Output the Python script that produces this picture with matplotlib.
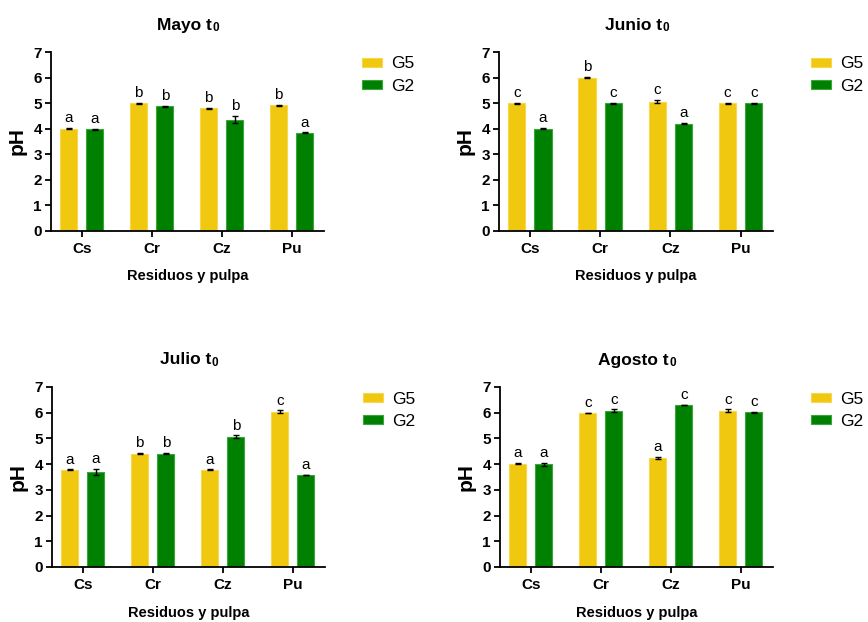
import matplotlib
matplotlib.use('Agg')
import matplotlib.pyplot as plt
import numpy as np
from matplotlib.patches import Patch

plt.rcParams['font.family'] = ['Liberation Sans', 'DejaVu Sans']

categories = ['Cs', 'Cr', 'Cz', 'Pu']
series = ['G5', 'G2']
months = ['Mayo', 'Junio', 'Julio', 'Agosto']

# mean pH per month, per series, per category
g5_vals = {
    'Mayo':   [4.00, 5.00, 4.80, 4.92],
    'Junio':  [4.99, 6.00, 5.06, 5.00],
    'Julio':  [3.78, 4.41, 3.78, 6.03],
    'Agosto': [4.02, 6.00, 4.25, 6.07],
}
g2_vals = {
    'Mayo':   [3.98, 4.87, 4.36, 3.84],
    'Junio':  [4.00, 5.00, 4.20, 5.00],
    'Julio':  [3.71, 4.41, 5.06, 3.57],
    'Agosto': [4.00, 6.07, 6.29, 6.02],
}
g5_err = {
    'Mayo':   [0.02, 0.02, 0.02, 0.02],
    'Junio':  [0.02, 0.02, 0.06, 0.02],
    'Julio':  [0.02, 0.02, 0.02, 0.06],
    'Agosto': [0.02, 0.00, 0.04, 0.06],
}
g2_err = {
    'Mayo':   [0.02, 0.02, 0.13, 0.02],
    'Junio':  [0.02, 0.02, 0.02, 0.02],
    'Julio':  [0.12, 0.03, 0.06, 0.00],
    'Agosto': [0.06, 0.06, 0.00, 0.02],
}
g5_letters = {
    'Mayo':   ['a', 'b', 'b', 'b'],
    'Junio':  ['c', 'b', 'c', 'c'],
    'Julio':  ['a', 'b', 'a', 'c'],
    'Agosto': ['a', 'c', 'a', 'c'],
}
g2_letters = {
    'Mayo':   ['a', 'b', 'b', 'a'],
    'Junio':  ['a', 'c', 'a', 'c'],
    'Julio':  ['a', 'b', 'b', 'a'],
    'Agosto': ['a', 'c', 'c', 'c'],
}

yellow = '#F0C80F'
green = '#008000'
yellow_edge = '#F6D84A'
green_edge = '#3AA53A'

W, H = 868, 622
fig = plt.figure(figsize=(W / 100, H / 100), dpi=100)

# axes boxes in pixels: left, top, right, bottom
boxes = [
    (51, 52, 324, 231),
    (499, 52, 773, 231),
    (52, 387, 325, 567),
    (500, 387, 773, 567),
]

x = np.arange(len(categories))
bw = 0.245
off = 0.187

for month, (l, t, r, b) in zip(months, boxes):
    ax = fig.add_axes([l / W, 1 - b / H, (r - l) / W, (b - t) / H])
    v5, v2 = g5_vals[month], g2_vals[month]
    e5, e2 = g5_err[month], g2_err[month]
    ax.bar(x - off, v5, bw, color=yellow, edgecolor=yellow_edge, linewidth=0.8, zorder=2)
    ax.bar(x + off, v2, bw, color=green, edgecolor=green_edge, linewidth=0.8, zorder=2)
    ax.errorbar(x - off, v5, yerr=e5, fmt='none', ecolor='black', elinewidth=1,
                capsize=2.5, capthick=1, zorder=3)
    ax.errorbar(x + off, v2, yerr=e2, fmt='none', ecolor='black', elinewidth=1,
                capsize=2.5, capthick=1, zorder=3)
    for xi, v, e, s in zip(x - off, v5, e5, g5_letters[month]):
        ax.annotate(s, (xi, v + e), xytext=(0, 2), textcoords='offset points',
                    ha='center', va='bottom', fontsize=11)
    for xi, v, e, s in zip(x + off, v2, e2, g2_letters[month]):
        ax.annotate(s, (xi, v + e), xytext=(0, 2), textcoords='offset points',
                    ha='center', va='bottom', fontsize=11)

    ax.set_xlim(-0.44, 3.46)
    ax.set_ylim(0, 7)
    ax.set_yticks(range(8))
    ax.set_xticks(x)
    ax.set_xticklabels(categories)
    for sp in ['top', 'right']:
        ax.spines[sp].set_visible(False)
    for sp in ['left', 'bottom']:
        ax.spines[sp].set_linewidth(1.3)
    ax.tick_params(axis='both', width=1.3, length=4, labelsize=11)
    ax.tick_params(axis='y', pad=2.5)
    ax.tick_params(axis='x', pad=4)
    for lab in ax.get_xticklabels() + ax.get_yticklabels():
        lab.set_fontweight('bold')

    ax.set_ylabel('pH', fontsize=15, fontweight='bold')
    ax.yaxis.set_label_coords(-0.09, 0.5)
    ax.set_xlabel('Residuos y pulpa', fontsize=10.5, fontweight='bold')
    ax.xaxis.set_label_coords(0.5, -0.215)

    # title with a small "0" after the t
    title = ax.text(0.49, 1.15, month + ' t', transform=ax.transAxes, ha='center',
                    va='center', fontsize=12.5, fontweight='bold')
    ax.annotate('0', xy=(1, 0), xycoords=title, xytext=(0.3, -0.8),
                textcoords='offset points', ha='left', va='bottom',
                fontsize=8.5, fontweight='bold')

    handles = [Patch(facecolor=yellow, edgecolor=yellow_edge, linewidth=0.8),
               Patch(facecolor=green, edgecolor=green_edge, linewidth=0.8)]
    ax.legend(handles, series, loc='upper left', bbox_to_anchor=(1.14, 0.975),
              frameon=False, fontsize=12.5, handlelength=1.15, handleheight=0.46,
              handletextpad=0.52, labelspacing=0.42, borderpad=0, borderaxespad=0)

fig.savefig('out.png', dpi=100)
